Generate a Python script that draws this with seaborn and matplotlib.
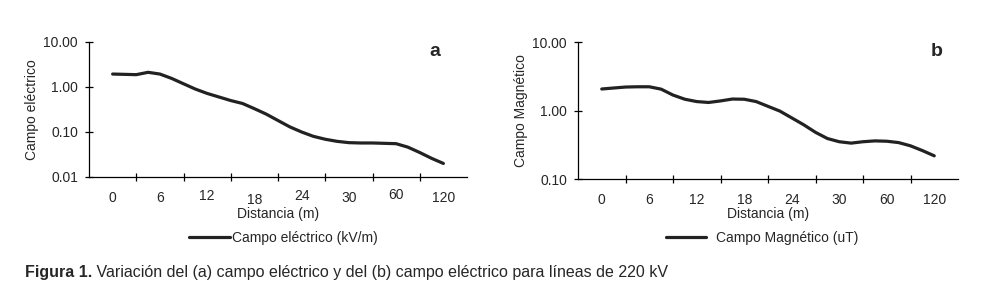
import numpy as np
import matplotlib
matplotlib.use('Agg')
import matplotlib.pyplot as plt
import matplotlib.transforms as mtransforms
from matplotlib.ticker import FixedLocator, NullFormatter
import seaborn as sns

# category labels of the distance axis
categories = ['0', '6', '12', '18', '24', '30', '60', '120']

# curve read every quarter category (position along the category axis)
pos = np.arange(0, 7.01, 0.25)

# (a) electric field, kV/m
campo_e = [1.94, 1.91, 1.88, 2.12, 1.94, 1.55, 1.18, 0.90, 0.72, 0.60,
           0.50, 0.43, 0.33, 0.25, 0.18, 0.13, 0.10, 0.080, 0.069, 0.062,
           0.058, 0.057, 0.057, 0.056, 0.055, 0.046, 0.035, 0.026, 0.020]

# (b) magnetic field, uT
campo_m = [2.06, 2.13, 2.20, 2.22, 2.22, 2.05, 1.68, 1.46, 1.35, 1.31,
           1.38, 1.47, 1.46, 1.35, 1.15, 0.98, 0.78, 0.62, 0.48, 0.39,
           0.35, 0.334, 0.35, 0.36, 0.356, 0.34, 0.305, 0.26, 0.218]

yticks_a = [0.01, 0.1, 1, 10]
yticks_b = [0.1, 1, 10]

# small vertical jitter of the x labels in panel a (px, + = down)
label_shift_a = [0, 0, -1.5, 2, -2, 0, -3, 0]

sns.set_style('white')
plt.rcParams['font.family'] = ['Liberation Sans', 'DejaVu Sans']
plt.rcParams['font.size'] = 10

fig = plt.figure(figsize=(9.82, 3.03), dpi=100)
ax_a = fig.add_axes([89 / 982, 1 - 177 / 303, 378 / 982, 135 / 303])
ax_b = fig.add_axes([578 / 982, 1 - 179 / 303, 380 / 982, 137 / 303])

line_color = '#222222'


def style_axis(ax, yticks, ylabel, leg_pos, textpad):
    ax.set_yscale('log')
    ax.set_ylim(yticks[0], yticks[-1])
    ax.set_xlim(-0.5, 7.5)
    ax.yaxis.set_major_locator(FixedLocator(yticks))
    ax.yaxis.set_minor_locator(FixedLocator([]))
    ax.set_yticklabels(['%.2f' % v for v in yticks])
    ax.set_xticks(range(len(categories)))
    ax.set_xticklabels(categories)
    ax.xaxis.set_minor_locator(FixedLocator(np.arange(0.5, 7, 1)))
    ax.xaxis.set_minor_formatter(NullFormatter())
    ax.tick_params(axis='x', which='major', length=0, pad=10, labelsize=10)
    ax.tick_params(axis='x', which='minor', direction='inout', length=6,
                   width=0.9, color='black', bottom=True)
    ax.tick_params(axis='y', which='major', direction='inout', length=6,
                   width=0.9, color='black', pad=5, labelsize=10, left=True)
    for side in ['top', 'right']:
        ax.spines[side].set_visible(False)
    for side in ['left', 'bottom']:
        ax.spines[side].set_color('black')
        ax.spines[side].set_linewidth(0.9)
    ax.set_xlabel('Distancia (m)', fontsize=10, labelpad=0)
    ax.set_ylabel(ylabel, fontsize=10, labelpad=3)
    ax.legend(loc='center', bbox_to_anchor=leg_pos, frameon=False,
              fontsize=10, handlelength=2.9, handletextpad=textpad)


sns.lineplot(x=pos, y=campo_e, ax=ax_a, color=line_color, linewidth=2.3,
             label='Campo eléctrico (kV/m)')
sns.lineplot(x=pos, y=campo_m, ax=ax_b, color=line_color, linewidth=2.3,
             label='Campo Magnético (uT)')

style_axis(ax_a, yticks_a, 'Campo eléctrico', (0.515, -0.452), 0.2)
style_axis(ax_b, yticks_b, 'Campo Magnético', (0.484, -0.43), 0.7)

for lbl, dy in zip(ax_a.get_xticklabels(), label_shift_a):
    lbl.set_transform(lbl.get_transform() +
                      mtransforms.ScaledTranslation(0, -dy / 100, fig.dpi_scale_trans))

ax_a.text(0.915, 0.93, 'a', transform=ax_a.transAxes, fontsize=14,
          fontweight='bold', ha='center', va='center')
ax_b.text(0.945, 0.93, 'b', transform=ax_b.transAxes, fontsize=14,
          fontweight='bold', ha='center', va='center')

cap_font = ['Liberation Sans', 'DejaVu Sans']
t1 = fig.text(25 / 982, 1 - 277 / 303, 'Figura 1.', fontsize=11.5,
              fontweight='bold', family=cap_font, va='baseline')
ax_a.annotate(' Variación del (a) campo eléctrico y del (b) campo eléctrico para líneas de 220 kV',
              xy=(1, 0), xycoords=t1, va='bottom', ha='left', fontsize=11.5,
              family=cap_font, annotation_clip=False)

fig.savefig('out.png', dpi=100)
